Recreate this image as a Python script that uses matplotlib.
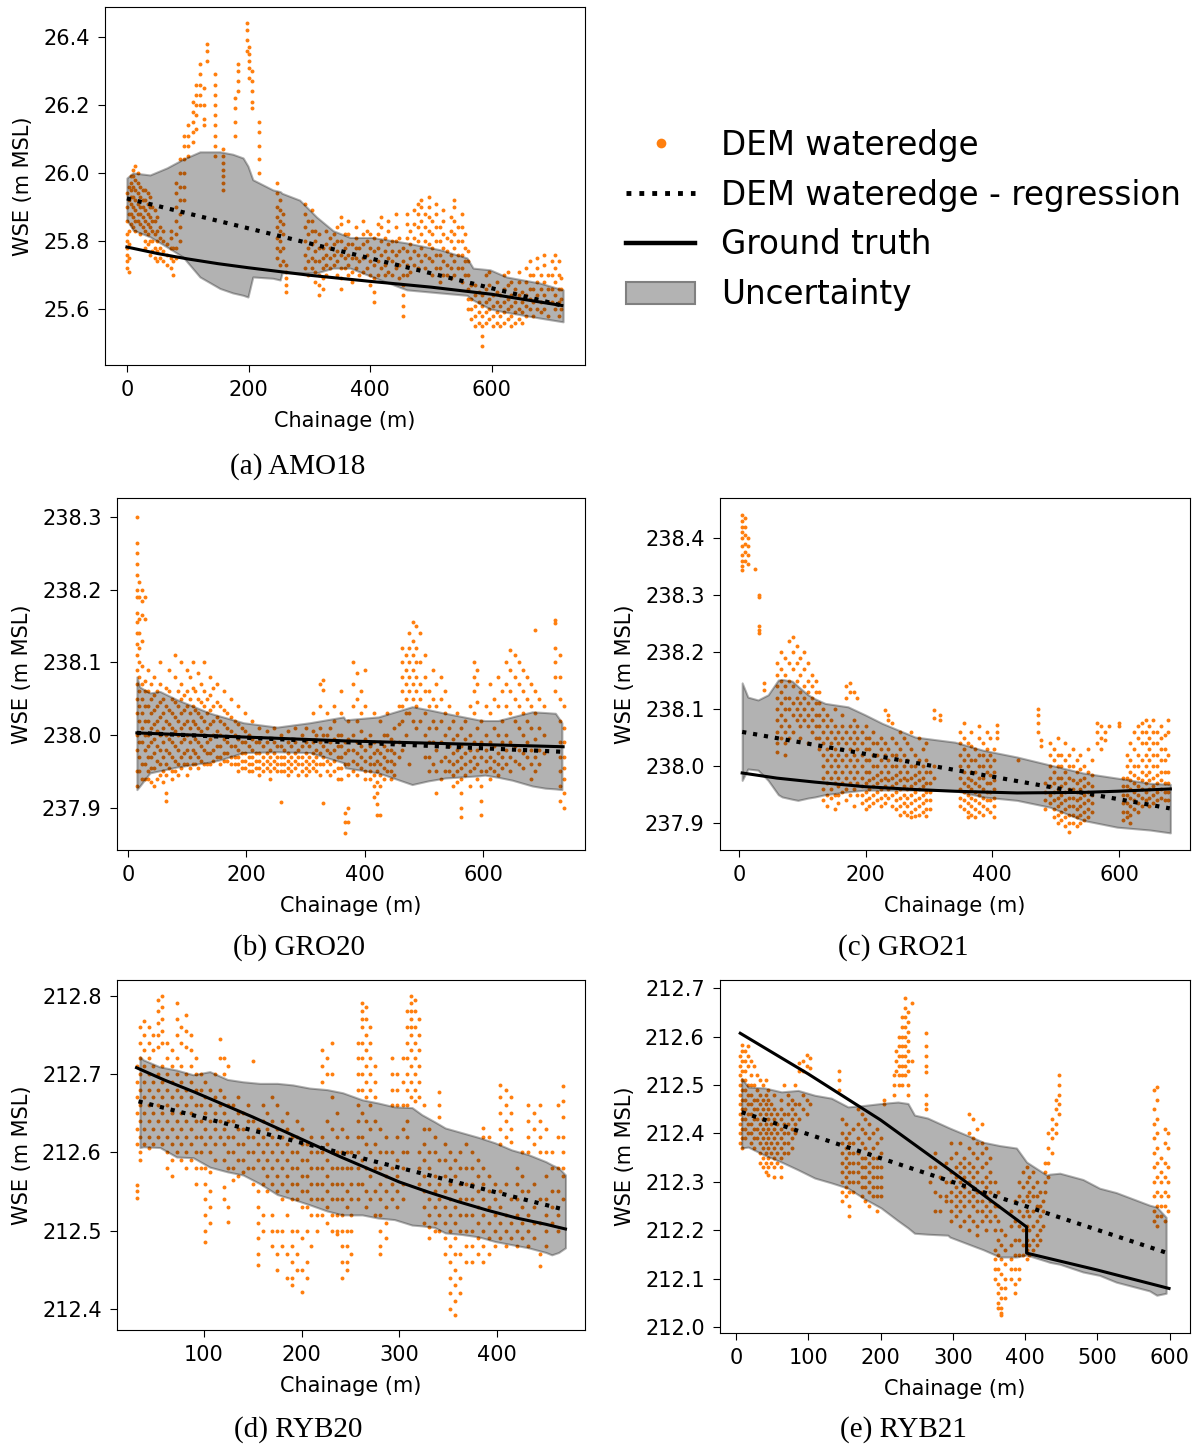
import matplotlib
matplotlib.use("Agg")
import matplotlib.pyplot as plt
from matplotlib.lines import Line2D
from matplotlib.patches import Patch

# ---------------- DATA ----------------
# Scatter points given as vertical streaks: (chainage, [WSE values])
amo_pts = [
    (0, [25.72, 25.74, 25.76, 25.78, 25.8, 25.82, 25.86, 25.9, 25.94]),
    (3, [25.71, 25.75, 25.79, 25.83, 25.88, 25.92, 25.96]),
    (6, [25.85, 25.88, 25.91, 25.93, 25.95, 25.97, 25.99]),
    (10, [25.84, 25.87, 25.9, 25.93, 25.96, 25.99, 26.01]),
    (14, [25.83, 25.86, 25.89, 25.92, 25.95, 25.98, 26.02]),
    (18, [25.86, 25.88, 25.91, 25.94, 25.97, 26.0]),
    (22, [25.82, 25.85, 25.88, 25.9, 25.93, 25.96]),
    (26, [25.84, 25.87, 25.9, 25.92, 25.95]),
    (30, [25.78, 25.8, 25.83, 25.86, 25.89, 25.92, 25.95]),
    (34, [25.79, 25.82, 25.85, 25.88, 25.91, 25.94]),
    (38, [25.76, 25.8, 25.84, 25.87, 25.9, 25.93]),
    (42, [25.77, 25.8, 25.83, 25.86, 25.9]),
    (46, [25.75, 25.78, 25.82, 25.86, 25.89]),
    (50, [25.74, 25.77, 25.8, 25.83, 25.87]),
    (55, [25.75, 25.78, 25.81, 25.84]),
    (60, [25.74, 25.77, 25.8, 25.83]),
    (66, [25.73, 25.76, 25.79]),
    (72, [25.72, 25.75, 25.78, 25.81, 25.83]),
    (76, [25.7, 25.74, 25.78]),
    (80, [25.75, 25.78, 25.82, 25.86, 25.9, 25.94, 25.97]),
    (88, [25.8, 25.84, 25.88, 25.92, 25.96, 26.0, 26.04]),
    (94, [25.92, 25.96, 26.0, 26.04, 26.08, 26.11]),
    (100, [26.05, 26.08, 26.11, 26.14]),
    (108, [26.09, 26.12, 26.15, 26.18, 26.21]),
    (114, [26.13, 26.17, 26.2, 26.23, 26.26]),
    (120, [26.2, 26.23, 26.26, 26.29, 26.32]),
    (126, [26.14, 26.16, 26.2, 26.25]),
    (131, [26.33, 26.36, 26.38]),
    (145, [26.05, 26.08, 26.11, 26.14, 26.17, 26.2, 26.23, 26.26, 26.29]),
    (158, [25.95, 25.97, 25.99, 26.01, 26.03, 26.05, 26.07]),
    (178, [26.11, 26.15, 26.19, 26.22]),
    (183, [26.24, 26.27, 26.3, 26.32]),
    (197, [26.36, 26.39, 26.42, 26.44]),
    (201, [26.28, 26.31, 26.33, 26.35, 26.37]),
    (205, [26.19, 26.21, 26.24, 26.27, 26.3]),
    (217, [26.0, 26.04, 26.08, 26.12, 26.15]),
    (247, [25.75, 25.78, 25.81, 25.84, 25.87, 25.9, 25.94, 25.97]),
    (252, [25.73, 25.77, 25.8, 25.83, 25.86, 25.89, 25.92]),
    (257, [25.74, 25.78, 25.82, 25.85, 25.88]),
    (262, [25.65, 25.67, 25.69, 25.71, 25.73]),
    (292, [25.72, 25.76, 25.8, 25.84, 25.88, 25.91]),
    (298, [25.7, 25.74, 25.78, 25.82, 25.86]),
    (304, [25.72, 25.75, 25.79, 25.83, 25.86, 25.89]),
    (310, [25.68, 25.71, 25.74, 25.77, 25.8, 25.83]),
    (316, [25.64, 25.67, 25.7, 25.74, 25.78, 25.82]),
    (322, [25.66, 25.69, 25.72, 25.75, 25.78]),
    (328, [25.7, 25.73, 25.76, 25.79, 25.83]),
    (334, [25.72, 25.75, 25.78, 25.81]),
    (340, [25.73, 25.76, 25.79, 25.82]),
    (346, [25.7, 25.74, 25.77, 25.8, 25.84]),
    (352, [25.66, 25.69, 25.72, 25.76, 25.8, 25.85, 25.87]),
    (358, [25.72, 25.75, 25.78, 25.82]),
    (364, [25.7, 25.73, 25.76, 25.79, 25.82, 25.86]),
    (370, [25.68, 25.71, 25.75, 25.79]),
    (376, [25.72, 25.75, 25.78, 25.81, 25.84]),
    (382, [25.7, 25.74, 25.78]),
    (388, [25.71, 25.75, 25.79, 25.82, 25.86]),
    (394, [25.72, 25.76, 25.8, 25.83]),
    (400, [25.67, 25.7, 25.74, 25.78, 25.82]),
    (406, [25.62, 25.65, 25.69, 25.73, 25.77, 25.81]),
    (412, [25.7, 25.74, 25.78, 25.82, 25.85]),
    (418, [25.72, 25.76, 25.8, 25.84, 25.87]),
    (424, [25.7, 25.73, 25.77, 25.81]),
    (430, [25.71, 25.75, 25.79, 25.83, 25.86]),
    (436, [25.7, 25.74, 25.77, 25.8]),
    (442, [25.72, 25.76, 25.8, 25.84, 25.88]),
    (448, [25.69, 25.73, 25.77, 25.81]),
    (454, [25.58, 25.61, 25.64, 25.67, 25.7, 25.74, 25.78]),
    (460, [25.7, 25.73, 25.77, 25.81, 25.85, 25.88]),
    (466, [25.71, 25.75, 25.79, 25.83]),
    (472, [25.73, 25.77, 25.81, 25.85, 25.89]),
    (478, [25.72, 25.76, 25.8, 25.84, 25.88, 25.91]),
    (484, [25.74, 25.78, 25.82, 25.86, 25.9, 25.92]),
    (490, [25.72, 25.76, 25.8, 25.84, 25.88]),
    (496, [25.75, 25.79, 25.83, 25.87, 25.9, 25.93]),
    (502, [25.7, 25.74, 25.78, 25.82, 25.86]),
    (508, [25.72, 25.76, 25.8, 25.84, 25.88, 25.91]),
    (514, [25.68, 25.72, 25.76, 25.8, 25.84]),
    (520, [25.7, 25.74, 25.78, 25.82, 25.86, 25.89]),
    (526, [25.7, 25.73, 25.77, 25.81]),
    (532, [25.69, 25.72, 25.76, 25.8, 25.83, 25.87]),
    (538, [25.7, 25.74, 25.78, 25.82, 25.86, 25.9, 25.92]),
    (544, [25.72, 25.76, 25.8, 25.84]),
    (550, [25.68, 25.72, 25.76, 25.8, 25.84, 25.88]),
    (556, [25.7, 25.74, 25.78, 25.82]),
    (560, [25.6, 25.63, 25.66, 25.7, 25.74, 25.77]),
    (566, [25.57, 25.6, 25.63, 25.67]),
    (572, [25.55, 25.58, 25.61, 25.64, 25.67]),
    (578, [25.56, 25.59, 25.62, 25.65]),
    (584, [25.49, 25.52, 25.55, 25.58, 25.61, 25.64]),
    (590, [25.56, 25.59, 25.62, 25.66, 25.7]),
    (596, [25.57, 25.6, 25.63, 25.67, 25.71]),
    (602, [25.55, 25.58, 25.61, 25.64]),
    (608, [25.56, 25.59, 25.62, 25.65, 25.68]),
    (614, [25.55, 25.58, 25.61, 25.64]),
    (620, [25.56, 25.59, 25.62, 25.66, 25.7]),
    (626, [25.57, 25.6, 25.63, 25.67, 25.71]),
    (632, [25.55, 25.58, 25.61, 25.64, 25.68]),
    (638, [25.56, 25.59, 25.62, 25.66]),
    (644, [25.57, 25.6, 25.64, 25.68, 25.71]),
    (650, [25.56, 25.59, 25.62, 25.65]),
    (656, [25.58, 25.61, 25.64, 25.68, 25.72]),
    (662, [25.6, 25.63, 25.66, 25.7, 25.74]),
    (668, [25.58, 25.62, 25.66, 25.7]),
    (674, [25.6, 25.64, 25.68, 25.72, 25.75]),
    (680, [25.59, 25.62, 25.66, 25.7]),
    (686, [25.6, 25.64, 25.68, 25.73, 25.76]),
    (692, [25.58, 25.62, 25.66, 25.7]),
    (698, [25.62, 25.66, 25.7, 25.74]),
    (704, [25.6, 25.64, 25.68, 25.72, 25.76]),
    (710, [25.58, 25.62, 25.66, 25.7, 25.74]),
    (714, [25.6, 25.63, 25.66, 25.69]),
]
amo_band_x = [0, 10, 38, 66, 92, 120, 153, 174, 191, 199, 207, 240, 252, 255, 284, 312,
              339, 367, 404, 460, 515, 559, 569, 597, 624, 679, 717]
amo_band_hi = [25.985, 26.0, 25.994, 26.015, 26.04, 26.062, 26.062, 26.055, 26.044, 26.02,
               25.98, 25.95, 25.945, 25.94, 25.92, 25.87, 25.83, 25.81, 25.81, 25.794,
               25.774, 25.75, 25.72, 25.715, 25.694, 25.676, 25.656]
amo_band_lo = [25.862, 25.832, 25.812, 25.782, 25.753, 25.694, 25.66, 25.647, 25.64, 25.635,
               25.694, 25.69, 25.685, 25.706, 25.706, 25.706, 25.72, 25.72, 25.694, 25.656,
               25.647, 25.64, 25.626, 25.6, 25.59, 25.573, 25.562]
amo_reg_x = [0, 715]
amo_reg_y = [25.925, 25.61]
amo_gt_x = [0, 50, 100, 150, 200, 300, 400, 500, 600, 715]
amo_gt_y = [25.782, 25.763, 25.747, 25.733, 25.721, 25.699, 25.681, 25.664, 25.643, 25.61]

gro20_pts = [
    (15, [238.30, 238.264, 238.25, 238.235, 238.22, 238.2, 238.19, 238.168, 238.155, 238.14,
          238.125, 238.11, 238.09, 238.07, 238.05, 238.03, 238.0, 237.98, 237.95, 237.93]),
    (19, [238.21, 238.19, 238.16, 238.14, 238.12, 238.1, 238.08, 238.06, 238.04, 238.02, 237.99, 237.97, 237.95]),
    (24, [238.2, 238.185, 238.165, 238.13, 238.095, 238.07, 238.05, 238.03, 238.01, 237.99, 237.96, 237.94]),
    (29, [238.19, 238.16, 238.075, 238.06, 238.04, 238.02, 238.0, 237.98, 237.96, 237.94]),
    (34, [238.09, 238.06, 238.04, 238.02, 238.0, 237.985, 237.97, 237.95, 237.94]),
    (39, [238.07, 238.05, 238.03, 238.01, 237.99, 237.97, 237.955, 237.935]),
    (44, [238.08, 238.055, 238.035, 238.015, 237.995, 237.975, 237.955, 237.93]),
    (49, [238.06, 238.04, 238.02, 238.005, 237.985, 237.965, 237.94]),
    (54, [238.1, 238.07, 238.045, 238.025, 238.0, 237.98, 237.96, 237.945]),
    (59, [238.05, 238.03, 238.01, 237.99, 237.97, 237.95, 237.935]),
    (64, [238.065, 238.04, 238.02, 238.0, 237.98, 237.96, 237.945, 237.92, 237.91]),
    (69, [238.09, 238.06, 238.035, 238.015, 237.995, 237.975, 237.955]),
    (74, [238.05, 238.03, 238.01, 237.99, 237.97, 237.95, 237.94]),
    (79, [238.11, 238.08, 238.045, 238.025, 238.005, 237.985, 237.965, 237.95]),
    (84, [238.06, 238.04, 238.02, 238.0, 237.98, 237.96, 237.945]),
    (89, [238.1, 238.07, 238.05, 238.03, 238.01, 237.99, 237.97, 237.955]),
    (94, [238.055, 238.035, 238.015, 237.995, 237.975, 237.96]),
    (99, [238.09, 238.06, 238.04, 238.02, 238.0, 237.98, 237.96, 237.945]),
    (104, [238.08, 238.05, 238.03, 238.01, 237.99, 237.97, 237.955]),
    (109, [238.1, 238.065, 238.04, 238.02, 238.0, 237.98, 237.96]),
    (114, [238.06, 238.035, 238.015, 237.995, 237.975, 237.96]),
    (119, [238.085, 238.05, 238.03, 238.01, 237.99, 237.97, 237.955]),
    (124, [238.07, 238.045, 238.025, 238.005, 237.985, 237.965]),
    (129, [238.1, 238.06, 238.04, 238.02, 238.0, 237.98, 237.96]),
    (134, [238.05, 238.03, 238.01, 237.99, 237.975, 237.96]),
    (139, [238.08, 238.055, 238.035, 238.015, 237.995, 237.975, 237.96]),
    (144, [238.065, 238.04, 238.02, 238.0, 237.98, 237.965]),
    (150, [238.07, 238.045, 238.025, 238.005, 237.985, 237.97]),
    (156, [238.04, 238.02, 238.0, 237.985, 237.97, 237.96]),
    (162, [238.06, 238.035, 238.015, 237.995, 237.975, 237.965]),
    (168, [238.03, 238.01, 237.99, 237.975, 237.965]),
    (174, [238.05, 238.025, 238.005, 237.985, 237.97, 237.96]),
    (180, [238.02, 238.0, 237.985, 237.97, 237.96]),
    (186, [238.04, 238.015, 237.995, 237.98, 237.97, 237.96, 237.95]),
    (192, [238.01, 237.99, 237.975, 237.965, 237.955]),
    (198, [238.03, 238.005, 237.99, 237.975, 237.965, 237.955]),
    (204, [238.0, 237.985, 237.97, 237.96, 237.95]),
    (210, [238.02, 237.995, 237.98, 237.97, 237.96, 237.95]),
    (216, [237.99, 237.975, 237.965, 237.955]),
    (222, [238.01, 237.99, 237.975, 237.965, 237.955, 237.945]),
    (228, [237.985, 237.97, 237.96, 237.95]),
    (234, [238.005, 237.99, 237.975, 237.965, 237.955]),
    (240, [237.98, 237.97, 237.96, 237.95, 237.94]),
    (246, [238.01, 237.99, 237.975, 237.965, 237.955]),
    (252, [237.985, 237.97, 237.96, 237.95]),
    (258, [238.0, 237.985, 237.97, 237.96, 237.95, 237.908]),
    (264, [237.98, 237.97, 237.96, 237.95]),
    (270, [238.005, 237.99, 237.975, 237.965, 237.955, 237.945]),
    (276, [237.985, 237.97, 237.96, 237.95]),
    (282, [238.01, 237.99, 237.975, 237.965, 237.955]),
    (288, [237.98, 237.97, 237.96, 237.945]),
    (294, [238.0, 237.985, 237.97, 237.96, 237.95]),
    (300, [238.01, 237.99, 237.975, 237.965, 237.955, 237.945]),
    (306, [237.985, 237.97, 237.96, 237.95]),
    (312, [238.03, 238.005, 237.99, 237.975, 237.965, 237.955]),
    (318, [238.0, 237.98, 237.97, 237.96, 237.95]),
    (324, [238.07, 238.04, 238.01, 237.99, 237.975, 237.96, 237.945]),
    (330, [238.076, 238.062, 238.0, 237.985, 237.97, 237.96, 237.907]),
    (336, [238.03, 238.0, 237.98, 237.965, 237.95]),
    (342, [238.01, 237.99, 237.975, 237.96, 237.945]),
    (348, [238.04, 238.02, 237.995, 237.98, 237.965, 237.95]),
    (354, [238.0, 237.985, 237.97, 237.955, 237.94]),
    (360, [238.06, 238.03, 238.0, 237.985, 237.97, 237.955, 237.94]),
    (366, [237.893, 237.88, 237.866, 237.99, 237.975, 237.96]),
    (372, [238.02, 237.995, 237.98, 237.96, 237.945, 237.9, 237.88]),
    (380, [238.1, 238.07, 238.04, 238.0, 237.98, 237.965, 237.95]),
    (387, [238.085, 238.05, 238.02, 237.99, 237.975, 237.96, 237.945]),
    (394, [238.06, 238.03, 238.005, 237.985, 237.97, 237.955]),
    (401, [238.09, 238.04, 237.995, 237.98, 237.965, 237.95, 237.94]),
    (408, [238.0, 237.985, 237.97, 237.96, 237.95, 237.94]),
    (415, [238.03, 237.99, 237.975, 237.96, 237.945, 237.93, 237.915]),
    (420, [237.98, 237.965, 237.95, 237.935, 237.92, 237.905, 237.89]),
    (426, [238.02, 237.99, 237.975, 237.96, 237.945, 237.93, 237.89]),
    (432, [238.0, 237.985, 237.97, 237.955, 237.94]),
    (438, [238.03, 238.0, 237.98, 237.965, 237.95]),
    (444, [237.995, 237.98, 237.965, 237.95, 237.94]),
    (450, [238.01, 237.99, 237.975, 237.96, 237.945]),
    (457, [238.04, 238.015, 237.99, 237.97]),
    (463, [238.12, 238.1, 238.08, 238.06, 238.04, 238.02, 237.98]),
    (469, [238.11, 238.09, 238.07, 238.05, 238.03, 238.0]),
    (475, [238.14, 238.12, 238.1, 238.08, 238.06, 238.03, 237.96]),
    (481, [238.156, 238.13, 238.11, 238.09, 238.07, 238.05, 238.02]),
    (487, [238.15, 238.12, 238.1, 238.08, 238.06, 238.04, 238.01]),
    (494, [238.14, 238.1, 238.07, 238.05, 238.02]),
    (501, [238.11, 238.08, 238.06, 238.03, 238.0, 237.97]),
    (508, [238.06, 238.04, 238.01, 237.99, 237.97, 237.95]),
    (515, [238.09, 238.05, 238.02, 237.99, 237.96]),
    (521, [238.07, 238.04, 238.01, 237.98, 237.95, 237.92]),
    (528, [238.08, 238.05, 238.02, 237.99, 237.965, 237.94]),
    (535, [238.06, 238.03, 238.0, 237.97, 237.95]),
    (542, [238.04, 238.01, 237.985, 237.965, 237.95]),
    (549, [238.02, 237.995, 237.975, 237.96, 237.945, 237.93]),
    (556, [238.03, 238.0, 237.98, 237.965, 237.95, 237.935]),
    (563, [238.01, 237.985, 237.97, 237.955, 237.94, 237.92, 237.9, 237.888]),
    (570, [238.02, 237.995, 237.975, 237.96, 237.945]),
    (577, [238.04, 238.0, 237.98, 237.965, 237.95, 237.93]),
    (584, [238.1, 238.08, 238.06, 238.03, 237.99, 237.97, 237.955]),
    (590, [238.09, 238.07, 238.045, 238.01, 237.98, 237.96, 237.94]),
    (597, [238.02, 237.99, 237.97, 237.95, 237.93, 237.91, 237.89]),
    (604, [238.04, 238.0, 237.98, 237.965, 237.95]),
    (611, [238.07, 238.03, 237.99, 237.97, 237.955, 237.94]),
    (618, [238.05, 238.01, 237.985, 237.965, 237.95]),
    (625, [238.08, 238.04, 238.0, 237.975, 237.96, 237.945]),
    (632, [238.06, 238.02, 237.99, 237.97, 237.955]),
    (639, [238.1, 238.07, 238.04, 238.0, 237.98, 237.96]),
    (646, [238.117, 238.09, 238.06, 238.03, 237.99, 237.97, 237.95]),
    (653, [238.11, 238.08, 238.05, 238.02, 237.985, 237.965]),
    (660, [238.1, 238.07, 238.04, 238.01, 237.98, 237.96]),
    (667, [238.09, 238.06, 238.03, 238.0, 237.975, 237.955]),
    (674, [238.08, 238.05, 238.02, 237.99, 237.97]),
    (681, [238.07, 238.04, 238.01, 237.98, 237.96, 237.94]),
    (688, [238.145, 238.06, 238.03, 237.995, 237.97, 237.95]),
    (695, [238.05, 238.01, 237.98, 237.96]),
    (702, [238.04, 238.0, 237.975]),
    (722, [238.158, 238.154, 238.12, 238.1, 238.08, 238.06]),
    (730, [238.11, 238.08, 238.05, 238.02, 237.99, 237.97, 237.95, 237.93, 237.91]),
    (736, [238.04, 238.01, 237.99, 237.97, 237.955, 237.94, 237.92, 237.9]),
]
gro20_band_x = [15, 20, 37, 54, 82, 139, 156, 195, 252, 307, 364, 367, 423, 480, 507, 536,
                592, 603, 625, 649, 683, 705, 722, 733]
gro20_band_hi = [238.08, 238.066, 238.058, 238.06, 238.049, 238.03, 238.026, 238.017, 238.011,
                 238.017, 238.025, 238.021, 238.025, 238.039, 238.035, 238.03, 238.021, 238.02,
                 238.02, 238.025, 238.032, 238.031, 238.03, 238.017]
gro20_band_lo = [237.925, 237.93, 237.948, 237.951, 237.956, 237.963, 237.966, 237.976, 237.977,
                 237.976, 237.962, 237.955, 237.948, 237.932, 237.937, 237.941, 237.944, 237.945,
                 237.942, 237.938, 237.93, 237.927, 237.926, 237.925]
gro20_reg_x = [15, 735]
gro20_reg_y = [238.003, 237.977]
gro20_gt_x = [15, 367, 735]
gro20_gt_y = [238.003, 237.992, 237.984]

gro21_pts = [
    (5, [238.44, 238.43, 238.42, 238.41, 238.4, 238.385, 238.37, 238.36, 238.35, 238.344]),
    (9, [238.435, 238.42, 238.405, 238.39, 238.375, 238.36]),
    (14, [238.4, 238.385, 238.37, 238.355]),
    (25, [238.346]),
    (32, [238.3, 238.296, 238.245, 238.238, 238.233]),
    (40, [238.146, 238.133]),
    (60, [238.18, 238.16, 238.14, 238.12, 238.1, 238.08, 238.06, 238.04, 238.025]),
    (66, [238.2, 238.17, 238.15, 238.13, 238.11, 238.09, 238.07, 238.05]),
    (72, [238.19, 238.16, 238.14, 238.12, 238.1, 238.08, 238.06, 238.04, 238.02]),
    (79, [238.22, 238.18, 238.15, 238.12, 238.1, 238.07, 238.05]),
    (85, [238.226, 238.2, 238.17, 238.14, 238.11, 238.09, 238.06]),
    (91, [238.21, 238.18, 238.15, 238.12, 238.1, 238.08]),
    (97, [238.19, 238.16, 238.13, 238.11, 238.09, 238.07, 238.05]),
    (103, [238.2, 238.17, 238.14, 238.12, 238.1, 238.08]),
    (109, [238.18, 238.15, 238.13, 238.11, 238.09, 238.07, 238.04]),
    (115, [238.16, 238.14, 238.12, 238.1, 238.08, 238.06]),
    (121, [238.15, 238.13, 238.11, 238.09, 238.07, 238.05]),
    (127, [238.13, 238.11, 238.09, 238.07, 238.05, 238.03]),
    (133, [238.1, 238.08, 238.06, 238.04, 238.02, 238.0, 237.98, 237.96, 237.94]),
    (139, [238.09, 238.07, 238.05, 238.03, 238.01, 237.99, 237.97, 237.95, 237.93]),
    (145, [238.08, 238.06, 238.04, 238.02, 238.0, 237.98, 237.96, 237.945]),
    (151, [238.1, 238.07, 238.05, 238.03, 238.01, 237.99, 237.97, 237.95, 237.925]),
    (157, [238.06, 238.04, 238.02, 238.0, 237.98, 237.965, 237.95, 237.935]),
    (163, [238.09, 238.07, 238.05, 238.03, 238.01, 237.99, 237.97, 237.955]),
    (169, [238.14, 238.12, 238.06, 238.04, 238.02, 238.0, 237.98, 237.96, 237.94]),
    (175, [238.146, 238.13, 238.07, 238.05, 238.03, 238.01, 237.99, 237.97, 237.95]),
    (181, [238.13, 238.08, 238.06, 238.04, 238.02, 238.0, 237.98, 237.96, 237.93]),
    (187, [238.12, 238.07, 238.05, 238.03, 238.01, 237.99, 237.97, 237.95]),
    (194, [238.06, 238.04, 238.02, 238.0, 237.98, 237.965, 237.95, 237.935]),
    (200, [238.07, 238.05, 238.03, 238.01, 237.99, 237.97, 237.955, 237.94, 237.925]),
    (206, [238.05, 238.03, 238.01, 237.99, 237.975, 237.96, 237.945, 237.93]),
    (212, [238.06, 238.04, 238.02, 238.0, 237.98, 237.965, 237.95, 237.935]),
    (218, [238.04, 238.02, 238.0, 237.985, 237.97, 237.955, 237.94]),
    (224, [238.05, 238.03, 238.01, 237.99, 237.975, 237.96, 237.945, 237.93]),
    (230, [238.098, 238.04, 238.02, 238.0, 237.98, 237.965, 237.95, 237.935]),
    (236, [238.09, 238.08, 238.03, 238.01, 237.99, 237.975, 237.96, 237.945]),
    (242, [238.075, 238.05, 238.02, 238.0, 237.98, 237.965, 237.95, 237.93]),
    (248, [238.04, 238.02, 238.0, 237.985, 237.97, 237.955, 237.94, 237.925]),
    (254, [238.06, 238.03, 238.01, 237.99, 237.975, 237.96, 237.945, 237.93, 237.915]),
    (260, [238.05, 238.02, 238.0, 237.98, 237.965, 237.95, 237.935, 237.92]),
    (266, [238.04, 238.01, 237.99, 237.975, 237.96, 237.945, 237.93, 237.915]),
    (272, [238.06, 238.03, 238.0, 237.98, 237.965, 237.95, 237.935, 237.92, 237.91]),
    (278, [238.02, 238.0, 237.985, 237.97, 237.955, 237.94, 237.925, 237.912]),
    (284, [238.05, 238.01, 237.99, 237.975, 237.96, 237.945, 237.93, 237.915]),
    (290, [238.03, 238.0, 237.98, 237.965, 237.95, 237.935, 237.92]),
    (296, [238.04, 238.01, 237.99, 237.97, 237.955, 237.94, 237.925, 237.912]),
    (302, [237.99, 237.97, 237.955, 237.94, 237.925]),
    (308, [238.098, 238.085, 238.0, 237.98]),
    (318, [238.09, 238.08]),
    (349, [238.06, 238.04, 238.02, 238.0, 237.98, 237.96, 237.945, 237.93]),
    (355, [238.075, 238.05, 238.03, 238.01, 237.99, 237.97, 237.955, 237.94, 237.925]),
    (361, [238.04, 238.02, 238.0, 237.98, 237.965, 237.95, 237.935, 237.92, 237.91]),
    (367, [238.06, 238.035, 238.01, 237.99, 237.975, 237.96, 237.945, 237.93, 237.915]),
    (373, [238.03, 238.01, 237.99, 237.97, 237.955, 237.94, 237.925, 237.91]),
    (379, [238.07, 238.05, 238.02, 238.0, 237.98, 237.965, 237.95, 237.935, 237.92]),
    (385, [238.04, 238.02, 238.0, 237.98, 237.96, 237.945, 237.93, 237.915]),
    (391, [238.06, 238.03, 238.01, 237.99, 237.97, 237.955, 237.94, 237.925]),
    (397, [238.05, 238.02, 238.0, 237.985, 237.97, 237.955, 237.94, 237.92]),
    (403, [238.03, 238.01, 237.99, 237.975, 237.96, 237.945, 237.93, 237.91]),
    (408, [238.072, 238.06, 238.05]),
    (441, [238.01]),
    (472, [238.1, 238.09, 238.075, 238.06]),
    (477, [238.045, 238.035]),
    (483, [237.97, 237.955, 237.94, 237.925]),
    (491, [238.04, 238.02, 238.0, 237.98, 237.965, 237.95, 237.935]),
    (497, [238.03, 238.01, 237.99, 237.97, 237.955, 237.94, 237.925, 237.91]),
    (503, [238.05, 238.02, 238.0, 237.98, 237.96, 237.945, 237.93, 237.915, 237.9]),
    (509, [238.02, 238.0, 237.98, 237.965, 237.95, 237.935, 237.92, 237.905]),
    (515, [238.04, 238.01, 237.99, 237.97, 237.955, 237.94, 237.925, 237.91, 237.895]),
    (521, [238.02, 238.0, 237.98, 237.96, 237.945, 237.93, 237.915, 237.9, 237.885]),
    (527, [238.03, 238.0, 237.975, 237.96, 237.945, 237.93, 237.915, 237.9]),
    (533, [238.01, 237.99, 237.97, 237.955, 237.94, 237.925, 237.91, 237.895]),
    (539, [238.02, 237.995, 237.975, 237.96, 237.945, 237.93, 237.915, 237.9]),
    (545, [238.0, 237.98, 237.965, 237.95, 237.935, 237.92, 237.905]),
    (551, [238.03, 237.99, 237.97, 237.955, 237.94, 237.925, 237.91]),
    (557, [238.01, 237.985, 237.965, 237.95, 237.935, 237.92]),
    (565, [238.075, 238.06, 238.04]),
    (571, [238.07, 238.05, 238.03]),
    (578, [238.06, 238.045]),
    (584, [238.07]),
    (600, [238.075, 238.07]),
    (606, [237.98, 237.965, 237.95, 237.935, 237.92, 237.905]),
    (612, [238.02, 238.0, 237.98, 237.965, 237.95, 237.935, 237.92, 237.91]),
    (618, [238.04, 238.01, 237.99, 237.975, 237.96, 237.945, 237.93, 237.915, 237.9]),
    (624, [238.06, 238.03, 238.0, 237.985, 237.97, 237.955, 237.94, 237.925]),
    (630, [238.07, 238.05, 238.02, 238.0, 237.98, 237.965, 237.95, 237.935, 237.92]),
    (636, [238.075, 238.06, 238.04, 238.01, 237.99, 237.975, 237.96, 237.945, 237.93]),
    (642, [238.08, 238.06, 238.04, 238.02, 238.0, 237.985, 237.97, 237.955, 237.94]),
    (648, [238.07, 238.05, 238.03, 238.01, 237.99, 237.975, 237.96, 237.945, 237.93]),
    (654, [238.08, 238.06, 238.04, 238.02, 238.0, 237.98, 237.965, 237.95, 237.935]),
    (660, [238.06, 238.04, 238.02, 238.0, 237.985, 237.97, 237.955, 237.94]),
    (666, [238.07, 238.05, 238.03, 238.01, 237.99, 237.975, 237.96, 237.945]),
    (672, [238.055, 238.03, 238.01, 237.99, 237.97, 237.955, 237.94]),
    (678, [238.08, 238.06, 238.02, 237.99, 237.97, 237.955, 237.94]),
]
gro21_band_x = [5, 14, 30, 46, 62, 68, 84, 93, 109, 120, 136, 172, 199, 226, 278, 341, 385,
                439, 491, 543, 597, 649, 681]
gro21_band_hi = [238.146, 238.121, 238.116, 238.125, 238.151, 238.152, 238.149, 238.14, 238.125,
                 238.118, 238.11, 238.104, 238.09, 238.075, 238.051, 238.042, 238.028, 238.016,
                 238.002, 237.988, 237.979, 237.97, 237.968]
gro21_band_lo = [237.975, 237.995, 237.993, 237.975, 237.95, 237.946, 237.942, 237.94, 237.944,
                 237.946, 237.95, 237.955, 237.958, 237.958, 237.958, 237.957, 237.946, 237.94,
                 237.928, 237.905, 237.893, 237.888, 237.883]
gro21_reg_x = [5, 680]
gro21_reg_y = [238.06, 237.926]
gro21_gt_x = [5, 60, 120, 199, 278, 341, 439, 543, 597, 681]
gro21_gt_y = [237.988, 237.979, 237.972, 237.964, 237.959, 237.956, 237.953, 237.954, 237.956, 237.96]

ryb20_pts = [
    (31, [212.71, 212.69, 212.67, 212.65, 212.63, 212.61, 212.558, 212.55, 212.542]),
    (35, [212.76, 212.74, 212.72, 212.7, 212.68, 212.66, 212.64, 212.62, 212.6, 212.59]),
    (39, [212.767, 212.75, 212.73, 212.71, 212.69, 212.67, 212.65, 212.63, 212.61]),
    (44, [212.76, 212.74, 212.72, 212.7, 212.68, 212.66, 212.64, 212.62, 212.605]),
    (48, [212.75, 212.73, 212.71, 212.69, 212.67, 212.65, 212.63, 212.61]),
    (53, [212.795, 212.78, 212.765, 212.75, 212.735, 212.7, 212.68, 212.66, 212.64, 212.62]),
    (57, [212.8, 212.785, 212.77, 212.755, 212.74, 212.71, 212.69, 212.67, 212.65, 212.63, 212.61]),
    (62, [212.74, 212.72, 212.7, 212.68, 212.66, 212.64, 212.62, 212.6, 212.58]),
    (67, [212.73, 212.71, 212.69, 212.67, 212.65, 212.63, 212.61, 212.59, 212.57]),
    (72, [212.79, 212.77, 212.75, 212.72, 212.7, 212.68, 212.66, 212.64, 212.62, 212.6]),
    (77, [212.76, 212.74, 212.71, 212.69, 212.67, 212.65, 212.63, 212.61, 212.59]),
    (82, [212.775, 212.755, 212.735, 212.7, 212.68, 212.66, 212.64, 212.62, 212.6, 212.58]),
    (87, [212.75, 212.73, 212.71, 212.69, 212.67, 212.65, 212.63, 212.61, 212.59]),
    (92, [212.72, 212.7, 212.68, 212.66, 212.64, 212.62, 212.6, 212.58, 212.56]),
    (97, [212.7, 212.68, 212.66, 212.64, 212.62, 212.6, 212.58]),
    (101, [212.69, 212.67, 212.65, 212.63, 212.61, 212.58, 212.56, 212.54, 212.52, 212.5, 212.485]),
    (106, [212.68, 212.66, 212.64, 212.62, 212.6, 212.575, 212.55, 212.53, 212.51]),
    (111, [212.7, 212.67, 212.65, 212.63, 212.61, 212.59]),
    (116, [212.745, 212.72, 212.68, 212.66, 212.64, 212.62]),
    (121, [212.72, 212.7, 212.67, 212.65, 212.63, 212.61, 212.59, 212.555, 212.54]),
    (125, [212.71, 212.66, 212.64, 212.62, 212.6, 212.58, 212.53, 212.511]),
    (130, [212.66, 212.64, 212.62, 212.6, 212.58, 212.565]),
    (135, [212.67, 212.65, 212.63, 212.61, 212.59, 212.57]),
    (140, [212.65, 212.63, 212.61, 212.59, 212.575]),
    (145, [212.66, 212.64, 212.62, 212.6, 212.58]),
    (150, [212.716, 212.64, 212.62, 212.6, 212.58, 212.56]),
    (155, [212.63, 212.61, 212.59, 212.55, 212.53, 212.51, 212.49, 212.47, 212.456]),
    (160, [212.66, 212.64, 212.62, 212.6, 212.58, 212.56, 212.52, 212.5]),
    (165, [212.65, 212.63, 212.61, 212.59, 212.57, 212.55]),
    (170, [212.67, 212.64, 212.62, 212.6, 212.58, 212.56, 212.52, 212.5, 212.48]),
    (175, [212.66, 212.63, 212.61, 212.59, 212.57, 212.55, 212.5, 212.47, 212.45]),
    (180, [212.64, 212.62, 212.6, 212.58, 212.56, 212.54, 212.5, 212.48]),
    (185, [212.65, 212.63, 212.61, 212.59, 212.57, 212.55, 212.52, 212.47, 212.44]),
    (190, [212.62, 212.6, 212.58, 212.56, 212.54, 212.5, 212.48, 212.46, 212.44, 212.43]),
    (195, [212.64, 212.62, 212.6, 212.58, 212.56, 212.54, 212.5, 212.47, 212.45]),
    (200, [212.63, 212.61, 212.59, 212.57, 212.55, 212.53, 212.49, 212.45, 212.422]),
    (205, [212.61, 212.59, 212.57, 212.55, 212.53, 212.5, 212.46, 212.44]),
    (210, [212.62, 212.6, 212.58, 212.56, 212.54, 212.52, 212.48]),
    (216, [212.6, 212.58, 212.56, 212.54, 212.52, 212.5]),
    (221, [212.73, 212.71, 212.69, 212.62, 212.6, 212.58, 212.56, 212.54, 212.52]),
    (226, [212.72, 212.7, 212.64, 212.61, 212.59, 212.57, 212.55, 212.53, 212.51]),
    (231, [212.74, 212.7, 212.67, 212.63, 212.6, 212.58, 212.56, 212.54, 212.52, 212.5]),
    (236, [212.65, 212.62, 212.6, 212.58, 212.56, 212.54, 212.52, 212.5, 212.495]),
    (241, [212.63, 212.6, 212.58, 212.56, 212.54, 212.52, 212.5, 212.48, 212.46, 212.44]),
    (246, [212.62, 212.6, 212.58, 212.55, 212.53, 212.5, 212.48, 212.46, 212.45]),
    (251, [212.6, 212.58, 212.56, 212.54, 212.52, 212.5, 212.47]),
    (258, [212.74, 212.72, 212.7, 212.68, 212.66, 212.64, 212.62, 212.6, 212.58, 212.56, 212.54]),
    (262, [212.791, 212.78, 212.77, 212.76, 212.74, 212.72, 212.7, 212.68, 212.65, 212.62, 212.59, 212.56]),
    (266, [212.785, 212.77, 212.75, 212.73, 212.71, 212.69, 212.67, 212.64, 212.61, 212.58, 212.55, 212.53]),
    (270, [212.76, 212.74, 212.72, 212.7, 212.68, 212.66, 212.63, 212.6, 212.57, 212.54]),
    (275, [212.71, 212.69, 212.67, 212.64, 212.61, 212.58, 212.55, 212.52]),
    (280, [212.63, 212.6, 212.58, 212.56, 212.54, 212.52, 212.5, 212.48, 212.47]),
    (286, [212.62, 212.6, 212.57, 212.55, 212.53, 212.51, 212.49]),
    (292, [212.72, 212.7, 212.68, 212.66, 212.6, 212.58, 212.56, 212.54]),
    (298, [212.7, 212.68, 212.66, 212.62, 212.59, 212.57, 212.55, 212.53]),
    (304, [212.72, 212.69, 212.66, 212.63, 212.6, 212.58, 212.56, 212.54]),
    (308, [212.78, 212.76, 212.74, 212.72, 212.7, 212.68, 212.66, 212.64, 212.62, 212.6]),
    (312, [212.8, 212.79, 212.78, 212.77, 212.76, 212.75, 212.73, 212.71, 212.69, 212.67]),
    (316, [212.795, 212.78, 212.76, 212.74, 212.72, 212.7, 212.68, 212.665]),
    (320, [212.77, 212.75, 212.73, 212.71, 212.69, 212.67, 212.6, 212.58, 212.56]),
    (325, [212.66, 212.63, 212.61, 212.59, 212.57, 212.55, 212.53, 212.51]),
    (330, [212.63, 212.6, 212.58, 212.56, 212.54, 212.52, 212.505, 212.49]),
    (336, [212.62, 212.6, 212.57, 212.55, 212.53, 212.51, 212.5]),
    (341, [212.677, 212.66, 212.645, 212.59, 212.56, 212.54, 212.52, 212.5]),
    (347, [212.61, 212.59, 212.57, 212.55, 212.53, 212.51, 212.49, 212.47]),
    (352, [212.6, 212.58, 212.56, 212.54, 212.52, 212.5, 212.48, 212.46, 212.44, 212.42, 212.4]),
    (357, [212.59, 212.57, 212.55, 212.53, 212.51, 212.49, 212.47, 212.45, 212.43, 212.41, 212.392]),
    (362, [212.6, 212.58, 212.56, 212.54, 212.52, 212.5, 212.47, 212.44, 212.42]),
    (368, [212.61, 212.58, 212.56, 212.54, 212.52, 212.5, 212.48, 212.46]),
    (374, [212.6, 212.58, 212.56, 212.54, 212.52, 212.5, 212.48, 212.46]),
    (380, [212.59, 212.57, 212.55, 212.53, 212.51, 212.49, 212.47]),
    (386, [212.631, 212.62, 212.58, 212.56, 212.54, 212.52, 212.5, 212.48, 212.46]),
    (392, [212.62, 212.57, 212.55, 212.53, 212.51, 212.49, 212.47]),
    (398, [212.56, 212.54, 212.52, 212.5, 212.48]),
    (403, [212.686, 212.67, 212.65, 212.63, 212.61, 212.55, 212.53, 212.51, 212.49]),
    (409, [212.68, 212.66, 212.64, 212.62, 212.56, 212.52, 212.5, 212.48]),
    (414, [212.67, 212.65, 212.63, 212.613, 212.54, 212.51, 212.49]),
    (420, [212.58, 212.56, 212.54, 212.52, 212.5, 212.48]),
    (426, [212.6, 212.57, 212.55, 212.53, 212.51, 212.49]),
    (432, [212.66, 212.64, 212.62, 212.6, 212.55, 212.52, 212.5, 212.48]),
    (438, [212.65, 212.63, 212.61, 212.56, 212.53, 212.51, 212.49]),
    (444, [212.66, 212.64, 212.62, 212.6, 212.54, 212.51, 212.47, 212.455]),
    (450, [212.63, 212.6, 212.57, 212.54, 212.52, 212.5, 212.48]),
    (456, [212.6, 212.58, 212.55, 212.53, 212.51]),
    (462, [212.66, 212.62, 212.58, 212.55, 212.52, 212.5]),
    (467, [212.685, 212.665, 212.645, 212.62, 212.6, 212.58, 212.57, 212.54]),
]
ryb20_band_x = [34.5, 38, 55, 72, 89, 106, 124, 140, 157, 175, 191, 208, 226, 242, 262, 278,
                295, 313, 323, 336, 347, 364, 381, 398, 415, 432, 450, 456, 463, 470]
ryb20_band_hi = [212.722, 212.718, 212.709, 212.705, 212.699, 212.703, 212.693, 212.69, 212.688,
                 212.688, 212.686, 212.682, 212.68, 212.676, 212.667, 212.663, 212.658, 212.657,
                 212.648, 212.639, 212.631, 212.625, 212.619, 212.612, 212.603, 212.597, 212.588,
                 212.584, 212.58, 212.571]
ryb20_band_lo = [212.606, 212.607, 212.606, 212.594, 212.593, 212.581, 212.575, 212.571, 212.56,
                 212.546, 212.54, 212.533, 212.525, 212.52, 212.52, 212.516, 212.514, 212.507,
                 212.506, 212.504, 212.497, 212.495, 212.492, 212.486, 212.482, 212.478, 212.472,
                 212.469, 212.472, 212.478]
ryb20_reg_x = [33, 468]
ryb20_reg_y = [212.665, 212.527]
ryb20_gt_x = [31, 60, 90, 120, 150, 180, 210, 240, 270, 300, 330, 360, 390, 420, 450, 470]
ryb20_gt_y = [212.708, 212.692, 212.677, 212.661, 212.645, 212.628, 212.611, 212.594, 212.578,
              212.562, 212.549, 212.537, 212.526, 212.516, 212.508, 212.502]

ryb21_pts = [
    (6, [212.56, 212.54, 212.52, 212.5, 212.48, 212.46, 212.44, 212.42, 212.4, 212.38]),
    (9, [212.582, 212.57, 212.55, 212.53, 212.51, 212.49, 212.47, 212.45, 212.43, 212.41, 212.39, 212.37]),
    (13, [212.57, 212.55, 212.53, 212.51, 212.49, 212.47, 212.45, 212.43, 212.41, 212.39]),
    (17, [212.58, 212.56, 212.54, 212.5, 212.48, 212.46, 212.44, 212.42, 212.4]),
    (21, [212.55, 212.52, 212.5, 212.48, 212.46, 212.44, 212.42, 212.4, 212.38]),
    (25, [212.54, 212.5, 212.47, 212.45, 212.43, 212.41, 212.39, 212.37]),
    (29, [212.52, 212.49, 212.47, 212.45, 212.43, 212.41, 212.39]),
    (33, [212.51, 212.48, 212.46, 212.44, 212.42, 212.4, 212.38, 212.36, 212.34]),
    (37, [212.5, 212.47, 212.45, 212.43, 212.41, 212.39, 212.37, 212.35, 212.33]),
    (41, [212.51, 212.48, 212.46, 212.44, 212.42, 212.4, 212.38, 212.36, 212.34, 212.32]),
    (45, [212.49, 212.47, 212.45, 212.43, 212.41, 212.39, 212.37, 212.35, 212.33, 212.314]),
    (49, [212.46, 212.44, 212.42, 212.4, 212.38, 212.36, 212.34]),
    (53, [212.48, 212.45, 212.43, 212.41, 212.39, 212.37, 212.35, 212.33, 212.31]),
    (57, [212.44, 212.42, 212.4, 212.38, 212.36, 212.34]),
    (62, [212.47, 212.45, 212.43, 212.41, 212.39, 212.37, 212.35, 212.33, 212.31]),
    (67, [212.5, 212.44, 212.42, 212.4, 212.38, 212.36]),
    (72, [212.48, 212.46, 212.44, 212.42, 212.4, 212.38, 212.36]),
    (77, [212.47, 212.45, 212.43, 212.41, 212.39, 212.37]),
    (82, [212.5, 212.46, 212.44, 212.42, 212.4]),
    (87, [212.545, 212.53, 212.46, 212.43]),
    (93, [212.55, 212.53, 212.48, 212.45]),
    (98, [212.562, 212.54, 212.47, 212.44]),
    (103, [212.555, 212.535, 212.46]),
    (142, [212.53, 212.51, 212.49]),
    (147, [212.43, 212.4, 212.38, 212.36, 212.34, 212.32, 212.3, 212.28, 212.26]),
    (152, [212.42, 212.39, 212.37, 212.35, 212.33, 212.31, 212.29, 212.27]),
    (157, [212.4, 212.38, 212.36, 212.34, 212.32, 212.3, 212.28, 212.25, 212.23]),
    (162, [212.41, 212.38, 212.36, 212.34, 212.32, 212.3, 212.28]),
    (169, [212.45, 212.42, 212.39, 212.36, 212.34, 212.32, 212.3]),
    (174, [212.44, 212.41, 212.38, 212.35, 212.33, 212.31, 212.29, 212.27]),
    (179, [212.43, 212.4, 212.37, 212.35, 212.33, 212.31, 212.29, 212.26]),
    (184, [212.42, 212.39, 212.36, 212.34, 212.32, 212.3, 212.28, 212.25]),
    (189, [212.4, 212.37, 212.35, 212.33, 212.31, 212.29, 212.27]),
    (195, [212.41, 212.38, 212.35, 212.33, 212.31, 212.29, 212.27, 212.24]),
    (200, [212.39, 212.36, 212.33, 212.31, 212.29, 212.27]),
    (205, [212.47, 212.46]),
    (218, [212.52, 212.5, 212.48]),
    (222, [212.57, 212.55, 212.53]),
    (226, [212.6, 212.58, 212.56, 212.54, 212.52, 212.5]),
    (230, [212.64, 212.62, 212.6, 212.58, 212.56, 212.54, 212.52, 212.5]),
    (234, [212.68, 212.66, 212.64, 212.62, 212.6, 212.58, 212.56, 212.54, 212.52]),
    (238, [212.65, 212.63, 212.61, 212.59, 212.57, 212.55, 212.53, 212.5, 212.48]),
    (243, [212.67, 212.55]),
    (263, [212.607, 212.58, 212.56, 212.54, 212.527, 212.48, 212.46, 212.45]),
    (268, [212.33, 212.3]),
    (275, [212.36, 212.33, 212.28, 212.24]),
    (282, [212.31, 212.27, 212.24]),
    (290, [212.34, 212.3, 212.27, 212.26]),
    (298, [212.38, 212.35, 212.32, 212.3, 212.28, 212.26, 212.24, 212.22]),
    (304, [212.36, 212.33, 212.31, 212.29, 212.27, 212.25, 212.23]),
    (310, [212.38, 212.34, 212.32, 212.3, 212.28, 212.26, 212.24, 212.21]),
    (316, [212.35, 212.33, 212.31, 212.29, 212.27, 212.25, 212.22]),
    (322, [212.44, 212.4, 212.37, 212.34, 212.32, 212.3, 212.28, 212.26, 212.23, 212.2]),
    (328, [212.43, 212.39, 212.36, 212.33, 212.31, 212.29, 212.27, 212.25, 212.22]),
    (334, [212.41, 212.38, 212.35, 212.32, 212.3, 212.28, 212.26, 212.24, 212.21, 212.19]),
    (340, [212.42, 212.38, 212.36, 212.33, 212.3, 212.28, 212.26, 212.24, 212.22]),
    (346, [212.37, 212.34, 212.31, 212.29, 212.27, 212.25, 212.23, 212.2]),
    (352, [212.35, 212.32, 212.3, 212.28, 212.26, 212.24, 212.22]),
    (358, [212.3, 212.27, 212.25, 212.23, 212.2, 212.16, 212.14, 212.12, 212.1]),
    (363, [212.28, 212.25, 212.22, 212.18, 212.15, 212.12, 212.09, 212.07, 212.05, 212.04]),
    (367, [212.2, 212.17, 212.14, 212.11, 212.08, 212.06, 212.04, 212.025, 212.03]),
    (372, [212.19, 212.16, 212.13, 212.1, 212.08, 212.06]),
    (380, [212.24, 212.21, 212.17, 212.14, 212.12, 212.1]),
    (386, [212.26, 212.22, 212.18, 212.15, 212.12, 212.09, 212.07]),
    (392, [212.3, 212.27, 212.24, 212.21, 212.18, 212.15, 212.12, 212.1]),
    (397, [212.32, 212.29, 212.26, 212.23, 212.2, 212.17, 212.15]),
    (402, [212.33, 212.3, 212.27, 212.24, 212.21, 212.18, 212.16, 212.14]),
    (406, [212.31, 212.28, 212.26, 212.23, 212.2, 212.17, 212.15]),
    (411, [212.32, 212.29, 212.27, 212.24, 212.21, 212.18, 212.16]),
    (416, [212.3, 212.27, 212.25, 212.22, 212.19, 212.17]),
    (421, [212.28, 212.25, 212.23, 212.2, 212.18]),
    (425, [212.26, 212.24, 212.21]),
    (428, [212.34, 212.32, 212.3, 212.28]),
    (432, [212.4, 212.37, 212.34, 212.31]),
    (437, [212.43, 212.41, 212.39, 212.36]),
    (442, [212.47, 212.45, 212.42, 212.4]),
    (447, [212.52, 212.5, 212.48, 212.46, 212.44]),
    (578, [212.49, 212.45, 212.42, 212.39, 212.36, 212.33, 212.3, 212.27, 212.24, 212.22]),
    (582, [212.496, 212.47, 212.43, 212.4, 212.37, 212.34, 212.31, 212.28, 212.25, 212.23, 212.21]),
    (588, [212.35, 212.32, 212.3, 212.27, 212.25, 212.23]),
    (594, [212.41, 212.38, 212.34, 212.31, 212.28, 212.25, 212.22]),
    (598, [212.4, 212.37, 212.33, 212.3, 212.27, 212.24]),
]
ryb21_band_x = [8, 17, 40, 63, 86, 109, 132, 155, 178, 201, 224, 238, 247, 265, 293, 296, 333,
                342, 365, 388, 402, 430, 434, 448, 480, 503, 526, 572, 582, 595]
ryb21_band_hi = [212.514, 212.496, 212.494, 212.486, 212.489, 212.479, 212.473, 212.455, 212.458,
                 212.462, 212.465, 212.462, 212.438, 212.432, 212.413, 212.411, 212.388, 212.382,
                 212.375, 212.37, 212.341, 212.314, 212.316, 212.318, 212.305, 212.287, 212.278,
                 212.252, 212.248, 212.227]
ryb21_band_lo = [212.37, 212.372, 212.355, 212.341, 212.325, 212.308, 212.298, 212.287, 212.265,
                 212.246, 212.22, 212.205, 212.194, 212.192, 212.19, 212.186, 212.165, 212.16,
                 212.145, 212.145, 212.149, 212.136, 212.134, 212.13, 212.114, 212.107, 212.093,
                 212.075, 212.066, 212.07]
ryb21_reg_x = [8, 597]
ryb21_reg_y = [212.444, 212.153]
ryb21_gt_x = [6, 100, 200, 300, 402, 402, 500, 599]
ryb21_gt_y = [212.607, 212.523, 212.428, 212.32, 212.207, 212.153, 212.118, 212.08]

captions = ["(a) AMO18", "(b) GRO20", "(c) GRO21", "(d) RYB20", "(e) RYB21"]
legend_labels = ["DEM wateredge", "DEM wateredge - regression", "Ground truth", "Uncertainty"]

# ---------------- PLOT ----------------
W, H = 1195, 1449
fig = plt.figure(figsize=(W / 100, H / 100), dpi=100)
ORANGE = "#ff7f0e"


def px_axes(x0, y0, x1, y1):
    return fig.add_axes([x0 / W, 1 - y1 / H, (x1 - x0) / W, (y1 - y0) / H])


def draw(ax, pts, bx, blo, bhi, rx, ry, gx, gy, xlim, ylim, xticks, yticks):
    xs, ys = [], []
    for x, yl in pts:
        xs += [x] * len(yl)
        ys += yl
    ax.scatter(xs, ys, s=8, color=ORANGE, linewidths=0, zorder=1)
    ax.fill_between(bx, blo, bhi, color="k", alpha=0.3, lw=1.5, zorder=2)
    ax.plot(rx, ry, color="k", ls=":", lw=3, zorder=3)
    ax.plot(gx, gy, color="k", ls="-", lw=2.2, zorder=3)
    ax.set_xlim(*xlim)
    ax.set_ylim(*ylim)
    ax.set_xticks(xticks)
    ax.set_yticks(yticks)
    ax.set_yticklabels(["{:.1f}".format(v) for v in yticks])
    ax.tick_params(labelsize=15, length=5, pad=6)
    ax.set_xlabel("Chainage (m)", fontsize=15, labelpad=8)
    ax.set_ylabel("WSE (m MSL)", fontsize=15, labelpad=7)


axa = px_axes(105, 7, 585, 365)
draw(axa, amo_pts, amo_band_x, amo_band_lo, amo_band_hi, amo_reg_x, amo_reg_y,
     amo_gt_x, amo_gt_y, (-36, 753), (25.435, 26.488), [0, 200, 400, 600],
     [25.6, 25.8, 26.0, 26.2, 26.4])

axb = px_axes(117, 498, 585, 850)
draw(axb, gro20_pts, gro20_band_x, gro20_band_lo, gro20_band_hi, gro20_reg_x, gro20_reg_y,
     gro20_gt_x, gro20_gt_y, (-18.6, 772), (237.842, 238.326), [0, 200, 400, 600],
     [237.9, 238.0, 238.1, 238.2, 238.3])

axc = px_axes(720, 498, 1190, 850)
draw(axc, gro21_pts, gro21_band_x, gro21_band_lo, gro21_band_hi, gro21_reg_x, gro21_reg_y,
     gro21_gt_x, gro21_gt_y, (-30, 712), (237.853, 238.47), [0, 200, 400, 600],
     [237.9, 238.0, 238.1, 238.2, 238.3, 238.4])

axd = px_axes(117, 980, 585, 1330)
draw(axd, ryb20_pts, ryb20_band_x, ryb20_band_lo, ryb20_band_hi, ryb20_reg_x, ryb20_reg_y,
     ryb20_gt_x, ryb20_gt_y, (11, 490), (212.373, 212.82), [100, 200, 300, 400],
     [212.4, 212.5, 212.6, 212.7, 212.8])

axe = px_axes(720, 980, 1190, 1333)
draw(axe, ryb21_pts, ryb21_band_x, ryb21_band_lo, ryb21_band_hi, ryb21_reg_x, ryb21_reg_y,
     ryb21_gt_x, ryb21_gt_y, (-22, 628), (211.988, 212.717), [0, 100, 200, 300, 400, 500, 600],
     [212.0, 212.1, 212.2, 212.3, 212.4, 212.5, 212.6, 212.7])

# captions
cap_pos = [(298, 467), (299, 948), (903, 948), (298, 1430), (903, 1430)]
for txt, (cx, cy) in zip(captions, cap_pos):
    fig.text(cx / W, 1 - cy / H, txt, ha="center", va="center",
             fontsize=21, family="Liberation Serif")

# legend
handles = [
    Line2D([], [], marker="o", ls="none", color=ORANGE, markersize=7, markeredgewidth=0),
    Line2D([], [], color="k", ls=":", lw=3.5),
    Line2D([], [], color="k", ls="-", lw=3.2),
    Patch(facecolor="#b3b3b3", edgecolor="#808080", lw=1.5),
]
fig.legend(handles, legend_labels, loc="center left", bbox_to_anchor=(597 / W, 1 - 220 / H),
           frameon=False, fontsize=23.5, handlelength=2.1, handletextpad=0.8,
           labelspacing=0.52, borderpad=0.4, numpoints=1)

fig.savefig("out.png", dpi=100)
